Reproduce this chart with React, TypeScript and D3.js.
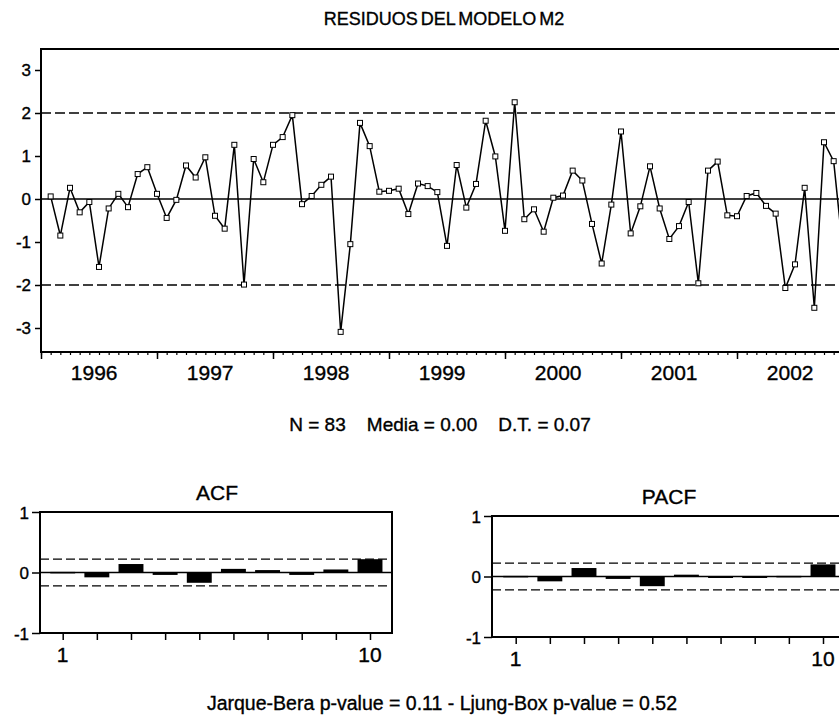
import React, { useEffect, useRef } from "react";
import * as d3 from "d3";

// monthly residuals, Feb 1996 .. Dec 2002 (standardised)
const residuals = [
  0.06, -0.85, 0.26, -0.31, -0.07, -1.58, -0.22, 0.12, -0.19, 0.58,
  0.74, 0.12, -0.44, -0.02, 0.78, 0.5, 0.97, -0.39, -0.69, 1.26,
  -1.99, 0.93, 0.39, 1.26, 1.44, 1.95, -0.12, 0.07, 0.33, 0.52,
  -3.09, -1.05, 1.77, 1.23, 0.17, 0.19, 0.24, -0.35, 0.36, 0.3,
  0.16, -1.09, 0.79, -0.2, 0.35, 1.82, 0.99, -0.74, 2.25, -0.47,
  -0.24, -0.76, 0.03, 0.08, 0.66, 0.43, -0.58, -1.5, -0.13, 1.57,
  -0.8, -0.17, 0.76, -0.22, -0.93, -0.63, -0.07, -1.96, 0.66, 0.87,
  -0.38, -0.4, 0.07, 0.14, -0.16, -0.34, -2.07, -1.52, 0.26, -2.53,
  1.32, 0.88, -1.3,
];
const years = [1996, 1997, 1998, 1999, 2000, 2001, 2002];
const residTicks = [3, 2, 1, 0, -1, -2, -3];
const residBands = [2, -2];

const lags = [1, 2, 3, 4, 5, 6, 7, 8, 9, 10];
const lagLabels = [1, 10];
const acf = [0.01, -0.08, 0.14, -0.04, -0.17, 0.06, 0.04, -0.04, 0.05, 0.22];
const pacf = [0.01, -0.08, 0.14, -0.04, -0.16, 0.03, -0.01, -0.02, 0.01, 0.2];
const corrTicks = [1, 0, -1];
const corrBand = 0.22;

const FONT = "'Liberation Sans', Arial, Helvetica, sans-serif";
const plain = (d: any) => String(d); // hyphen minus like the original

function drawCorr(
  svg: any,
  values: number[],
  title: string,
  box: { left: number; top: number; bottom: number; lag1: number; lag10: number }
) {
  const g = svg.append("g");
  const x = d3.scaleLinear().domain([1, 10]).range([box.lag1, box.lag10]);
  const y = d3.scaleLinear().domain([-1, 1]).range([box.bottom, box.top]);
  const right = box.left + 352;
  const bw = (x(2) - x(1)) * 0.73;

  // bars
  g.selectAll("rect.bar")
    .data(values)
    .join("rect")
    .attr("class", "bar")
    .attr("x", (d: number, i: number) => x(lags[i]) - bw / 2)
    .attr("y", (d: number) => y(Math.max(0, d)))
    .attr("width", bw)
    .attr("height", (d: number) => Math.max(1.5, Math.abs(y(d) - y(0))))
    .attr("fill", "#000");

  // zero line + confidence bands
  g.append("line")
    .attr("x1", box.left).attr("x2", right)
    .attr("y1", y(0)).attr("y2", y(0))
    .attr("stroke", "#000").attr("stroke-width", 1.4);
  [corrBand, -corrBand].forEach((b) => {
    g.append("line")
      .attr("x1", box.left).attr("x2", right)
      .attr("y1", y(b)).attr("y2", y(b))
      .attr("stroke", "#000").attr("stroke-width", 1.3)
      .attr("stroke-dasharray", "9,4");
  });

  // frame
  g.append("rect")
    .attr("x", box.left).attr("y", box.top)
    .attr("width", right - box.left).attr("height", box.bottom - box.top)
    .attr("fill", "none").attr("stroke", "#000").attr("stroke-width", 2);

  // y axis
  const ya = g.append("g")
    .attr("transform", `translate(${box.left},0)`)
    .call(d3.axisLeft(y).tickValues(corrTicks).tickSize(8).tickFormat(plain));
  ya.select(".domain").remove();
  ya.selectAll("line").attr("stroke-width", 1.5);
  ya.selectAll("text").attr("font-size", 17).attr("font-family", FONT).attr("fill", "#000").attr("dy", "0.36em");

  // x axis: ticks at every lag, labels at 1 and 10
  const xa = g.append("g")
    .attr("transform", `translate(0,${box.bottom})`)
    .call(d3.axisBottom(x).tickValues(lags).tickSize(7).tickFormat(() => ""));
  xa.select(".domain").remove();
  xa.selectAll("line").attr("stroke-width", 1.5);

  g.selectAll("text.lag")
    .data(lagLabels)
    .join("text")
    .attr("class", "lag")
    .attr("x", (d: number) => x(d))
    .attr("y", box.bottom + 29)
    .attr("text-anchor", "middle")
    .attr("font-size", 21)
    .attr("font-family", FONT)
    .text((d: number) => d);

  g.append("text")
    .attr("x", box.left + 177)
    .attr("y", box.top - 12)
    .attr("text-anchor", "middle")
    .attr("font-size", 21)
    .attr("font-family", FONT)
    .text(title);
}

export default function App() {
  const ref = useRef<SVGSVGElement>(null);

  useEffect(() => {
    const svg = d3.select(ref.current);
    svg.selectAll("*").remove();

    // ---- residual plot ----
    const left = 41, right = 853, top = 49, bottom = 352;
    const x = d3.scaleLinear().domain([-1, 83]).range([left, right]);
    const y = d3.scaleLinear().domain([-3, 3]).range([328, 70]);

    svg.append("text")
      .attr("x", 444).attr("y", 25)
      .attr("text-anchor", "middle")
      .attr("font-size", 18).attr("font-family", FONT)
      .attr("word-spacing", -2)
      .text("RESIDUOS DEL MODELO M2");

    svg.append("line")
      .attr("x1", left).attr("x2", right)
      .attr("y1", y(0)).attr("y2", y(0))
      .attr("stroke", "#000").attr("stroke-width", 1.4);
    residBands.forEach((b) => {
      svg.append("line")
        .attr("x1", left).attr("x2", right)
        .attr("y1", y(b)).attr("y2", y(b))
        .attr("stroke", "#000").attr("stroke-width", 1.3)
        .attr("stroke-dasharray", "10,4");
    });

    const line = d3.line<number>().x((d, i) => x(i)).y((d) => y(d));
    svg.append("path")
      .datum(residuals)
      .attr("d", line)
      .attr("fill", "none")
      .attr("stroke", "#000")
      .attr("stroke-width", 1.5);

    svg.append("g")
      .selectAll("rect")
      .data(residuals)
      .join("rect")
      .attr("x", (d, i) => x(i) - 2.5)
      .attr("y", (d) => y(d) - 2.5)
      .attr("width", 5)
      .attr("height", 5)
      .attr("fill", "#fff")
      .attr("stroke", "#000")
      .attr("stroke-width", 1);

    svg.append("rect")
      .attr("x", left).attr("y", top)
      .attr("width", right - left).attr("height", bottom - top)
      .attr("fill", "none").attr("stroke", "#000").attr("stroke-width", 2);

    const ya = svg.append("g")
      .attr("transform", `translate(${left},0)`)
      .call(d3.axisLeft(y).tickValues(residTicks).tickSize(6).tickFormat(plain));
    ya.select(".domain").remove();
    ya.selectAll("line").attr("stroke-width", 1.5);
    ya.selectAll("text").attr("font-size", 17).attr("font-family", FONT).attr("fill", "#000").attr("x", -10);

    // month ticks (minor) and january ticks (major)
    const months = d3.range(-1, 84);
    const jans = months.filter((m) => (m + 1) % 12 === 0);
    const xm = svg.append("g")
      .attr("transform", `translate(0,${bottom})`)
      .call(d3.axisBottom(x).tickValues(months).tickSize(3).tickFormat(() => ""));
    xm.select(".domain").remove();
    xm.selectAll("line").attr("stroke-width", 1.2);
    const xj = svg.append("g")
      .attr("transform", `translate(0,${bottom})`)
      .call(d3.axisBottom(x).tickValues(jans).tickSize(7).tickFormat(() => ""));
    xj.select(".domain").remove();
    xj.selectAll("line").attr("stroke-width", 1.5);

    svg.append("g")
      .selectAll("text")
      .data(years)
      .join("text")
      .attr("x", (d) => x((d - 1996) * 12 - 1 + 5.5))
      .attr("y", 380)
      .attr("text-anchor", "middle")
      .attr("font-size", 21)
      .attr("font-family", FONT)
      .text((d) => d);

    svg.append("text")
      .attr("x", 440).attr("y", 431)
      .attr("text-anchor", "middle")
      .attr("font-size", 19).attr("font-family", FONT)
      .style("white-space", "pre")
      .text("N = 83    Media = 0.00    D.T. = 0.07");

    // ---- correlograms ----
    drawCorr(svg, acf, "ACF", { left: 40, top: 512, bottom: 633, lag1: 62.7, lag10: 370 });
    drawCorr(svg, pacf, "PACF", { left: 492, top: 516, bottom: 637, lag1: 515.7, lag10: 823 });

    svg.append("text")
      .attr("x", 442).attr("y", 710)
      .attr("text-anchor", "middle")
      .attr("font-size", 19.5).attr("font-family", FONT)
      .text("Jarque-Bera p-value = 0.11 - Ljung-Box p-value = 0.52");

    // scanned print looks heavier than a screen font
    svg.selectAll("text").attr("stroke", "#000").attr("stroke-width", 0.35);
  }, []);

  return (
    <div style={{ position: "absolute", left: 0, top: 0 }}>
      <svg ref={ref} width={839} height={724} style={{ display: "block", background: "#fff" }} />
    </div>
  );
}
